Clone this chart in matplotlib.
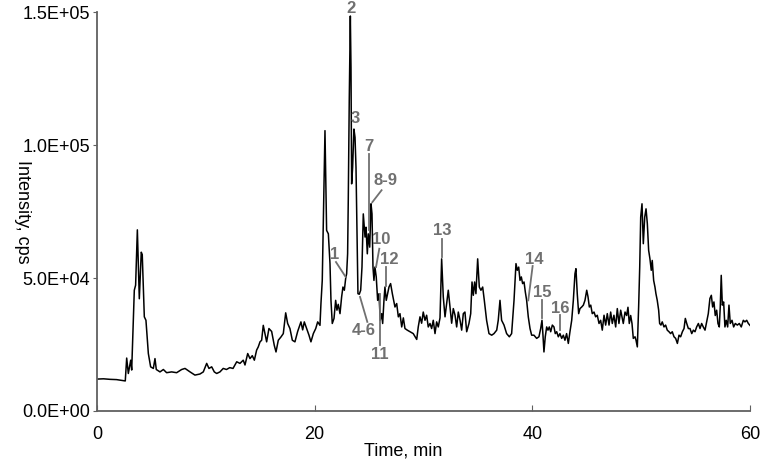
import numpy as np
import matplotlib
matplotlib.use('Agg')
import matplotlib.pyplot as plt
from matplotlib.ticker import FuncFormatter

# chromatogram trace (time in min, intensity in cps)
time_min = [0.0, 0.6, 1.2, 1.8, 2.3, 2.6, 2.73, 2.88, 3.1, 3.19, 3.43, 3.55, 3.71, 3.89, 4.07, 4.16,
            4.35, 4.5, 4.72, 4.93, 5.18, 5.33, 5.45, 5.79, 6.1, 6.4, 6.86, 7.32, 7.78, 8.09, 8.55, 9.0,
            9.46, 9.77, 10.08, 10.29, 10.54, 10.78,
            11.0, 11.3, 11.6, 11.9, 12.2, 12.5, 12.84, 13.14, 13.44, 13.6, 13.85, 14.06, 14.27, 14.46,
            14.67, 14.82, 14.98, 15.13, 15.28, 15.44, 15.59, 15.8, 16.05, 16.29, 16.45, 16.66, 16.9,
            17.12, 17.34, 17.52, 17.73, 17.95, 18.19, 18.44, 18.74, 18.9, 19.05, 19.27, 19.48, 19.66,
            19.88, 20.1, 20.28, 20.49, 20.58, 20.7,
            20.95, 21.1, 21.26, 21.41, 21.5, 21.62, 21.78, 21.93, 22.05, 22.17, 22.33, 22.48, 22.6,
            22.73, 22.85, 22.94, 23.03, 23.09, 23.18, 23.28, 23.34, 23.4, 23.49, 23.61, 23.71, 23.8,
            23.89, 23.98, 24.1, 24.23, 24.35, 24.47, 24.63, 24.72, 24.84, 24.93, 25.06, 25.18, 25.27,
            25.36, 25.45, 25.54, 25.66, 25.79, 25.91, 26.03, 26.16, 26.25, 26.37, 26.46, 26.58, 26.71,
            26.83, 26.98, 27.14,
            27.38, 27.54, 27.69, 27.84, 28.0, 28.15, 28.3, 28.51, 28.76, 29.06, 29.38, 29.52, 29.68,
            29.83, 29.98, 30.14, 30.29, 30.44, 30.6, 30.75, 30.9, 31.06, 31.21, 31.36, 31.52, 31.67,
            31.82, 31.98, 32.13, 32.28, 32.44, 32.59, 32.74, 32.9, 33.05, 33.2, 33.36, 33.51, 33.66,
            33.81, 33.97, 34.18, 34.34, 34.46, 34.58, 34.7, 34.82, 34.98, 35.13, 35.28, 35.44, 35.59,
            35.8, 36.02, 36.27, 36.48, 36.73, 36.87, 37.03, 37.18, 37.4, 37.64, 37.89,
            38.1, 38.32, 38.5, 38.62, 38.75, 38.87, 38.99, 39.11, 39.24, 39.36, 39.48, 39.63, 39.79,
            39.94, 40.15, 40.4, 40.61, 40.77, 40.89, 40.98, 41.07, 41.19, 41.32, 41.44, 41.56, 41.69,
            41.84, 41.99, 42.11, 42.24, 42.39, 42.54, 42.7, 42.85, 43.0, 43.15, 43.31, 43.46, 43.62,
            43.77, 43.92, 44.01, 44.13, 44.26, 44.38, 44.54, 44.69, 44.84, 45.0, 45.12, 45.24, 45.37,
            45.51, 45.67, 45.82, 45.97, 46.13, 46.28, 46.43, 46.59, 46.74, 46.89, 47.05, 47.2, 47.35,
            47.5, 47.66, 47.81, 47.96, 48.12,
            48.36, 48.52, 48.67, 48.79, 48.91, 49.04, 49.16, 49.28, 49.44, 49.53, 49.65, 49.77, 49.87,
            49.96, 50.08, 50.2, 50.33, 50.45, 50.57, 50.69, 50.81, 50.93, 51.02, 51.15, 51.27, 51.36,
            51.48, 51.61, 51.7, 51.82, 51.94, 52.1, 52.25, 52.4, 52.56, 52.71, 52.86, 53.02, 53.17,
            53.33, 53.48, 53.63, 53.79, 53.94, 54.06, 54.19, 54.34, 54.49, 54.65, 54.8, 54.95, 55.1,
            55.26, 55.41, 55.56, 55.71, 55.87, 56.02, 56.17, 56.32, 56.45, 56.57, 56.69, 56.81, 56.94,
            57.06, 57.18, 57.27, 57.36, 57.46, 57.58, 57.7, 57.82, 57.95, 58.07, 58.19, 58.35, 58.5,
            58.65, 58.84, 59.02, 59.2, 59.39, 59.54, 59.7, 59.85, 60.0]

intensity = [12000, 12100, 11900, 11800, 11500, 11300, 19900, 14100, 19100, 15400, 45400, 47300, 68100,
             42200, 59700, 58800, 35400, 34100, 21600, 16600, 16000, 19700, 15600, 14700, 15600, 14400,
             14700, 14400, 15600, 16000, 14700, 13500, 13900, 14700, 17900, 16000, 16600, 14700,
             14100, 14700, 16000, 15600, 16300, 16000, 18500, 17900, 19100, 17300, 21600, 19700, 20800,
             19100, 22900, 24100, 26000, 26600, 32200, 29100, 26000, 31000, 29900, 24700, 22200, 26600,
             27800, 29100, 36900, 32900, 31000, 26600, 26000, 29900, 33500, 30500, 33500, 31000, 28500,
             26000, 29100, 31000, 33500, 32200, 40400, 49100,
             105400, 67900, 66600, 55400, 41600, 32900, 34800, 41600, 37900, 40100, 36600, 42900, 46600,
             45400, 49800, 51600, 59100, 79100, 116600, 148500, 129100, 85400, 91600, 106000, 102900,
             91600, 66600, 44100, 43900, 45400, 54100, 74100, 65400, 69100, 59100, 66600, 61600, 77900,
             74100, 54100, 49100, 54100, 50400, 41600, 44100, 34100, 36600, 32900, 41600, 46600, 41600,
             44100, 46600, 47900, 44100,
             39100, 40400, 35400, 36600, 31600, 35000, 31000, 30400, 29800, 29100, 26900, 31600, 35400,
             33000, 37200, 34100, 36000, 31600, 32900, 31000, 34100, 29100, 33500, 31600, 35000, 57200,
             42900, 35400, 40400, 45400, 39100, 33000, 38500, 36000, 31600, 37200, 34100, 30400, 36600,
             37200, 29800, 32900, 36600, 48500, 43500, 48500, 44100, 57200, 46600, 45400, 46600, 41600,
             34100, 29100, 28500, 29100, 30400, 34100, 41600, 34100, 32300, 29100, 27900,
             29100, 41600, 55400, 52900, 54100, 49100, 50400, 47900, 48500, 44700, 41600, 35400, 31000,
             28500, 28500, 27300, 27900, 31000, 34100, 28500, 22200, 27900, 31600, 30400, 31600, 29800,
             32300, 31600, 29100, 29800, 27900, 29100, 27300, 28500, 26600, 29100, 25400, 29800, 34100,
             41600, 51600, 53500, 44100, 36600, 38500, 39100, 39800, 41600, 45400, 42900, 39100, 39800,
             36600, 37200, 35400, 36000, 32900, 34100, 30400, 36000, 32300, 36600, 32300, 37200, 32900,
             36000, 31600, 38500, 32900, 37900,
             32900, 37200, 35900, 39000, 32900, 35900, 32900, 27300, 27900, 26600, 24100, 39100, 54100,
             72900, 77900, 62900, 72900, 76000, 70400, 60400, 57200, 52900, 56600, 49100, 46600, 44100,
             41600, 37900, 32900, 32300, 33500, 31600, 32300, 30400, 29800, 29100, 29800, 27900, 27300,
             25400, 28500, 27900, 29800, 31000, 34800, 32900, 31000, 31000, 29100, 30400, 29800, 31600,
             32900, 31000, 32900, 31600, 30400, 33500, 36600, 42300, 43500, 39100, 41000, 35900, 37900,
             32900, 31600, 39100, 51000, 39800, 41000, 31600, 34100, 31600, 39800, 32900, 34100, 31600,
             32900, 32300, 32900, 31600, 34100, 33500, 34100, 32900, 32200]

# peak labels
peak_labels = ['1', '2', '3', '4-6', '7', '8-9', '10', '11', '12', '13', '14', '15', '16']

fig = plt.figure(figsize=(7.6, 4.62), dpi=100)
ax = fig.add_axes([0.1276, 0.1104, 0.8592, 0.8636])

ax.plot(time_min, intensity, color='black', linewidth=1.1)

# label text position and leader line (x0, y0, x1, y1) or None
lab_pos = [(21.8, 59000, (21.96, 56000, 22.85, 50400)),
           (23.3, 151500, None),
           (23.7, 110000, None),
           (24.53, 30400, (24.84, 33500, 24.17, 42900)),
           (24.99, 99300, (24.96, 96600, 24.96, 67900)),
           (26.5, 86600, (26.15, 83000, 25.3, 78500)),
           (26.1, 64300, (25.94, 61000, 25.64, 54100)),
           (26.0, 21300, (26.0, 24700, 26.0, 44100)),
           (26.86, 56800, (26.53, 54100, 26.53, 46900)),
           (31.73, 68000, (31.67, 64800, 31.67, 57900)),
           (40.18, 57000, (40.03, 54500, 39.63, 41600)),
           (40.95, 44600, (40.89, 41600, 40.89, 34800)),
           (42.6, 38700, (42.54, 36000, 42.54, 30400))]

for lab, (tx, ty, seg) in zip(peak_labels, lab_pos):
    ax.text(tx, ty, lab, ha='center', va='center', fontsize=12, fontweight='bold',
            color='#707070', family='Liberation Sans', clip_on=False)
    if seg is not None:
        ax.plot([seg[0], seg[2]], [seg[1], seg[3]], color='#707070', linewidth=1.3)

ax.set_xlim(0, 60)
ax.set_ylim(0, 150000)
ax.set_xticks([0, 20, 40, 60])
ax.set_yticks([0, 50000, 100000, 150000])
ax.yaxis.set_major_formatter(FuncFormatter(lambda v, p: f'{v:.1E}'))

for s in ['top', 'right']:
    ax.spines[s].set_visible(False)
for s in ['left', 'bottom']:
    ax.spines[s].set_color('#606060')
    ax.spines[s].set_linewidth(1.3)

ax.tick_params(axis='x', direction='in', length=4, color='#606060', labelsize=13, pad=11)
ax.tick_params(axis='y', direction='out', length=3, color='#606060', labelsize=13, pad=2)
for lbl in ax.get_xticklabels() + ax.get_yticklabels():
    lbl.set_family('Liberation Sans')

ax.set_xlabel('Time, min', fontsize=13, family='Liberation Sans')
ax.xaxis.set_label_coords(0.469, -0.078)
ax.set_ylabel('Intensity, cps', fontsize=13, family='Liberation Sans', rotation=270)
ax.yaxis.set_label_coords(-0.127, 0.5)

fig.savefig('out.png', dpi=100)
